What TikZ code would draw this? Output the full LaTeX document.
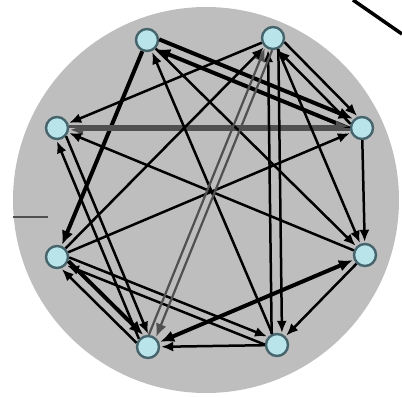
\documentclass[tikz,border=0pt]{standalone}
\usetikzlibrary{arrows.meta}
\definecolor{bgray}{RGB}{190,190,190}
\definecolor{nfill}{RGB}{185,228,234}
\definecolor{nedge}{RGB}{70,100,108}
\definecolor{dgray}{RGB}{80,80,80}
\begin{document}
\begin{tikzpicture}[x=1pt,y=-1pt,
  nd/.style={circle,draw=nedge,fill=nfill,line width=2.4pt,minimum size=22pt,inner sep=0pt},
  te/.style={line width=2.5pt,-{Latex[length=12pt,width=10pt]},shorten >=1pt},
  tk/.style={line width=4pt,-{Latex[length=14pt,width=12pt]},shorten >=1pt},
  tkk/.style={line width=4pt,{Latex[length=14pt,width=12pt]}-{Latex[length=14pt,width=12pt]},shorten >=1pt,shorten <=1pt},
  gr/.style={line width=3pt,draw=dgray,-{Latex[length=13pt,width=11pt]},shorten >=1pt}
]
\useasboundingbox (0,0) rectangle (402,397);
\fill[bgray] (206,200) circle (193pt);
\coordinate (t1) at (353,0);
\coordinate (t2) at (402,34);
\draw[line width=3.5pt] (t1) -- (t2);
\coordinate (d1) at (13,217);
\coordinate (d2) at (48,217);
\draw[line width=2.5pt,draw=dgray] (d1) -- (d2);

\node[nd] (A) at (147,40) {};
\node[nd] (B) at (273,38) {};
\node[nd] (C) at (362,128) {};
\node[nd] (D) at (57,128) {};
\node[nd] (E) at (365,255) {};
\node[nd] (F) at (57,257) {};
\node[nd] (G) at (148,347) {};
\node[nd] (H) at (277,345) {};

% thick edges
\draw[tk] (A) -- (F);
\draw[tk] (A.3) -- (C.133);
\draw[tk] (C.183) -- (A.313);
\draw[tkk] (G) -- (E);
\draw[tk] (F.340) -- (G.110);
\draw[te] (G.160) -- (F.290);

% gray double horizontal
\draw[gr] (D.9) -- (C.171);
\draw[gr] (C.189) -- (D.351);

% thin edges
\draw[te] (B) -- (D);
\draw[te] (E) -- (D);
\draw[te] (F) -- (C);
\draw[te] (D.318) -- (G.88);
\draw[te] (G.138) -- (D.268);
\draw[te] (F.358) -- (H.138);
\draw[te] (H.178) -- (F.318);
\draw[te] (H) -- (G);
\draw[te] (E) -- (H);
\draw[te] (C) -- (E);
\draw[te] (A) -- (E);
\draw[te] (H) -- (A);
\draw[te] (B.296) -- (H.66);
\draw[te] (H.116) -- (B.246);
\draw[gr,line width=2.2pt] (B.266) -- (G.50);
\draw[gr,line width=2.2pt] (G.86) -- (B.230);
\draw[te] (F) -- (B);
\draw[te] (B.340) -- (C.110);
\draw[te] (C.160) -- (B.290);
\draw[te] (B) -- (E);
\end{tikzpicture}
\end{document}
